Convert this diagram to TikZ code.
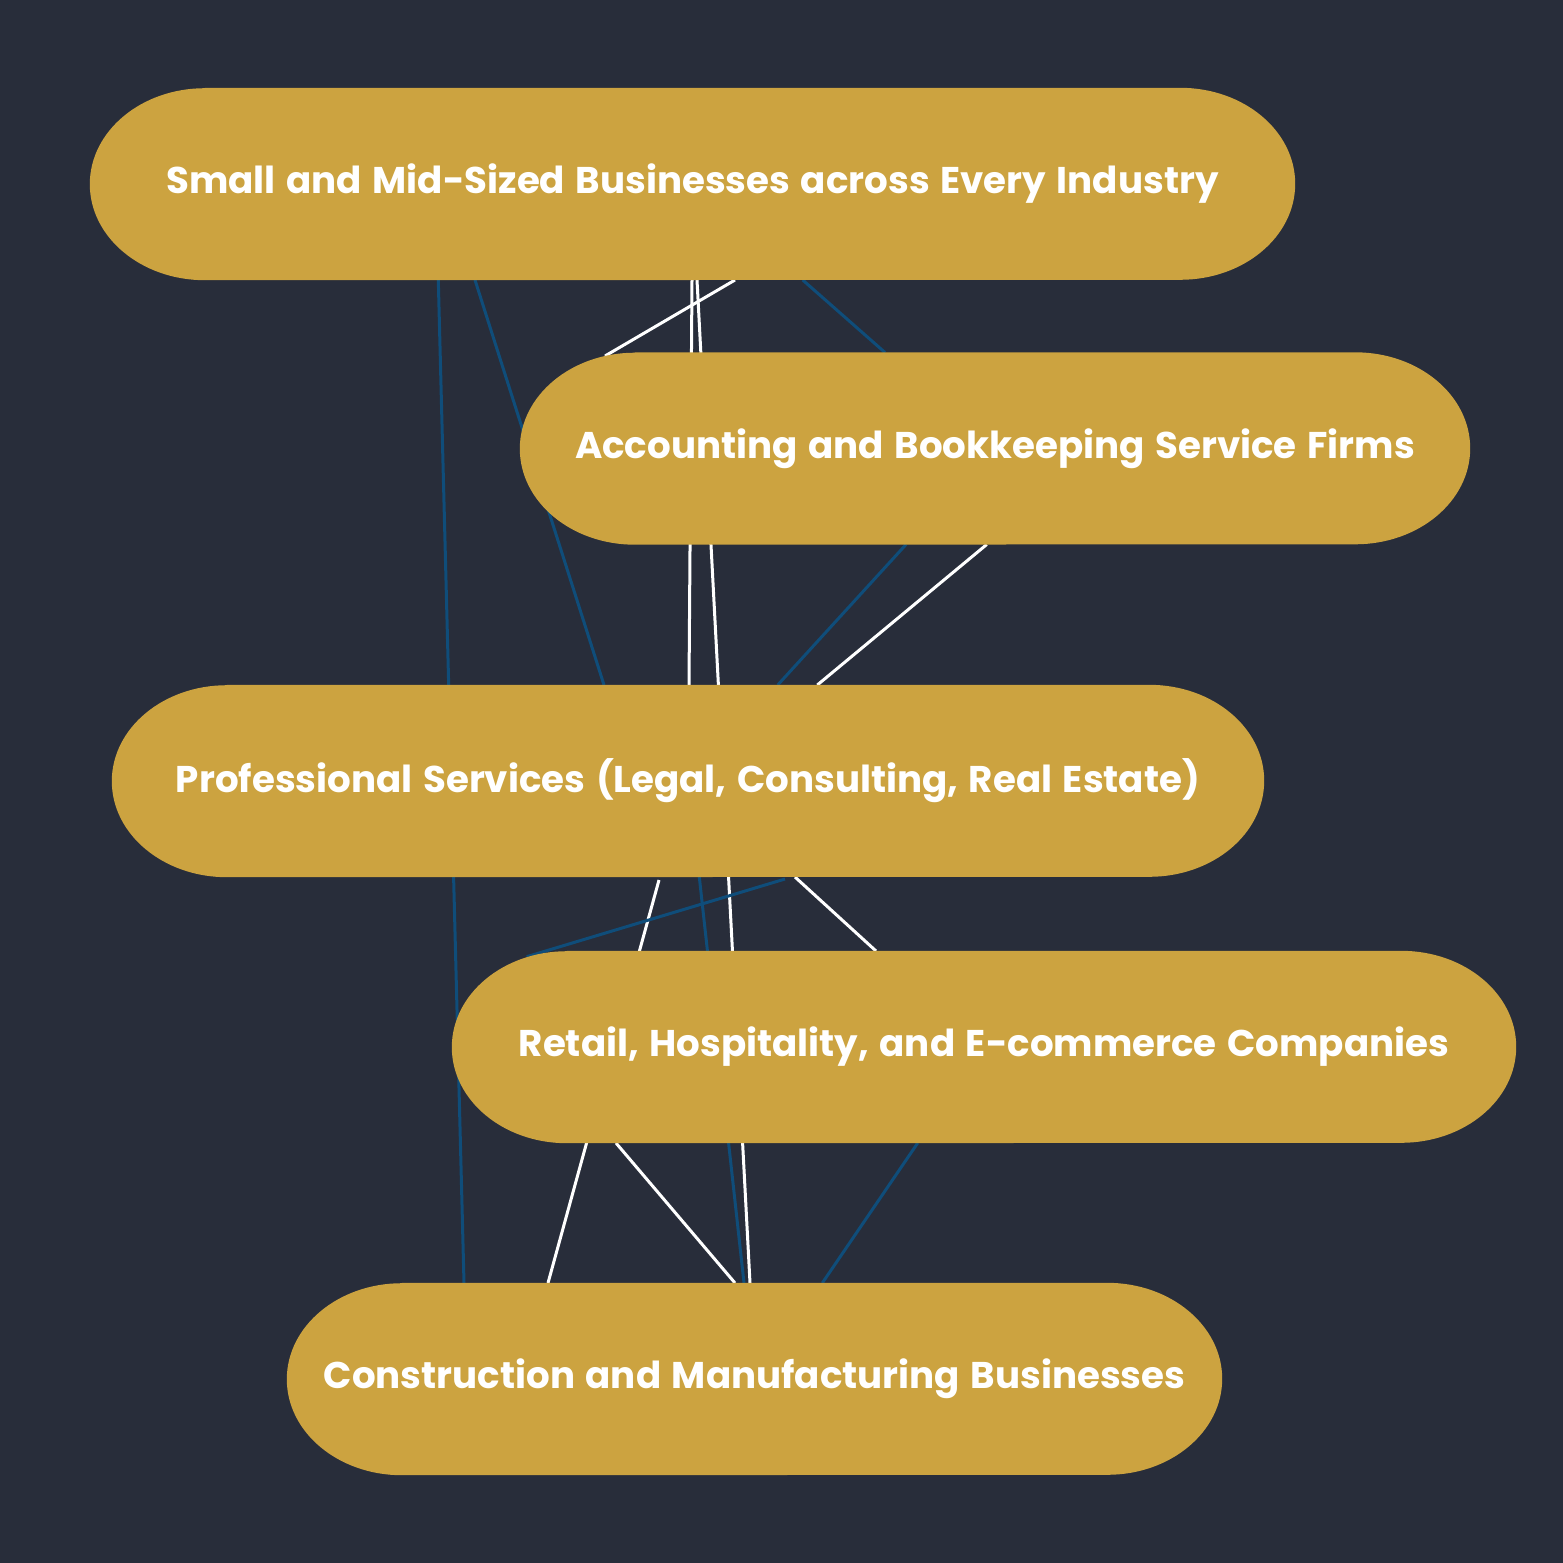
\documentclass[tikz,border=0pt]{standalone}
\usepackage{fontspec}
\setmainfont{Poppins}[WordSpace=1.35]
\usetikzlibrary{calc}
\definecolor{bgc}{HTML}{282D3A}
\definecolor{gold}{HTML}{CCA340}
\definecolor{edgeblue}{HTML}{0F4D7A}
\pgfdeclarelayer{bgl}
\pgfdeclarelayer{edges}
\pgfdeclarelayer{shapes}
\pgfsetlayers{bgl,edges,shapes,main}
\newcommand\stadiumfill[1]{%
  \fill[gold] ([xshift=115pt]#1.north west) -- ([xshift=-115pt]#1.north east)
    arc[start angle=90,end angle=-90,x radius=115pt,y radius=96pt]
    -- ([xshift=115pt]#1.south west)
    arc[start angle=270,end angle=90,x radius=115pt,y radius=96pt] -- cycle;}
\tikzset{
  box/.style={inner sep=0pt, minimum height=192pt, text=white,
    font=\fontsize{37.2}{42}\selectfont\bfseries},
  wline/.style={draw=white, line width=3pt},
  bline/.style={draw=edgeblue, line width=3pt},
}
\begin{document}
\begin{tikzpicture}[x=1pt,y=-1pt]
\begin{pgfonlayer}{bgl}
\fill[bgc] (0,0) rectangle (1563,1563);
\end{pgfonlayer}
\useasboundingbox (0,0) rectangle (1563,1563);
\node[box, minimum width=1205pt] (a) at (692.5,184) {Small and Mid-Sized Businesses across Every Industry};
\node[box, minimum width=950pt] (b) at (995,448.5) {Accounting and Bookkeeping Service Firms};
\node[box, minimum width=1152pt] (c) at (688,781) {Professional Services (Legal, Consulting, Real Estate)};
\node[box, minimum width=1064pt] (d) at (984,1047) {Retail, Hospitality, and E-commerce Companies};
\node[box, minimum width=935pt] (e) at (754.5,1379) {Construction and Manufacturing Businesses};
\begin{pgfonlayer}{shapes}
\stadiumfill{a}\stadiumfill{b}\stadiumfill{c}\stadiumfill{d}\stadiumfill{e}
\end{pgfonlayer}
\begin{pgfonlayer}{edges}
\draw[wline] ([shift={(42.5,96)}]a.center) -- ([shift={(-390,-92.5)}]b.center);
\draw[bline] ([shift={(110.2,96)}]a.center) -- ([shift={(-110,-96)}]b.center);
\draw[wline] ([shift={(-0.5,96)}]a.center) -- ([shift={(1,-96)}]c.center);
\draw[wline] ([shift={(4.5,96)}]a.center) -- ([shift={(-4.5,-96)}]e.center);
\draw[bline] ([shift={(-254.2,96)}]a.center) -- ([shift={(-290.5,-96)}]e.center);
\draw[bline] ([shift={(-217.5,96)}]a.center) -- ([shift={(-84,-96)}]c.center);
\draw[bline] ([shift={(-89,96)}]b.center) -- ([shift={(89.7,-96)}]c.center);
\draw[wline] ([shift={(-8.3,96)}]b.center) -- ([shift={(129.3,-96)}]c.center);
\draw[bline] ([shift={(11.3,96)}]c.center) -- ([shift={(-10.5,-96)}]e.center);
\draw[wline] ([shift={(-29,99)}]c.center) -- ([shift={(-206.5,-96)}]e.center);
\draw[bline] ([shift={(97,98)}]c.center) -- ([shift={(-457.3,-90.3)}]d.center);
\draw[wline] ([shift={(107,96)}]c.center) -- ([shift={(-108,-96)}]d.center);
\draw[wline] ([shift={(-368,96)}]d.center) -- ([shift={(-19.5,-96)}]e.center);
\draw[bline] ([shift={(-66.3,96)}]d.center) -- ([shift={(67.8,-96)}]e.center);
\end{pgfonlayer}
\end{tikzpicture}
\end{document}
